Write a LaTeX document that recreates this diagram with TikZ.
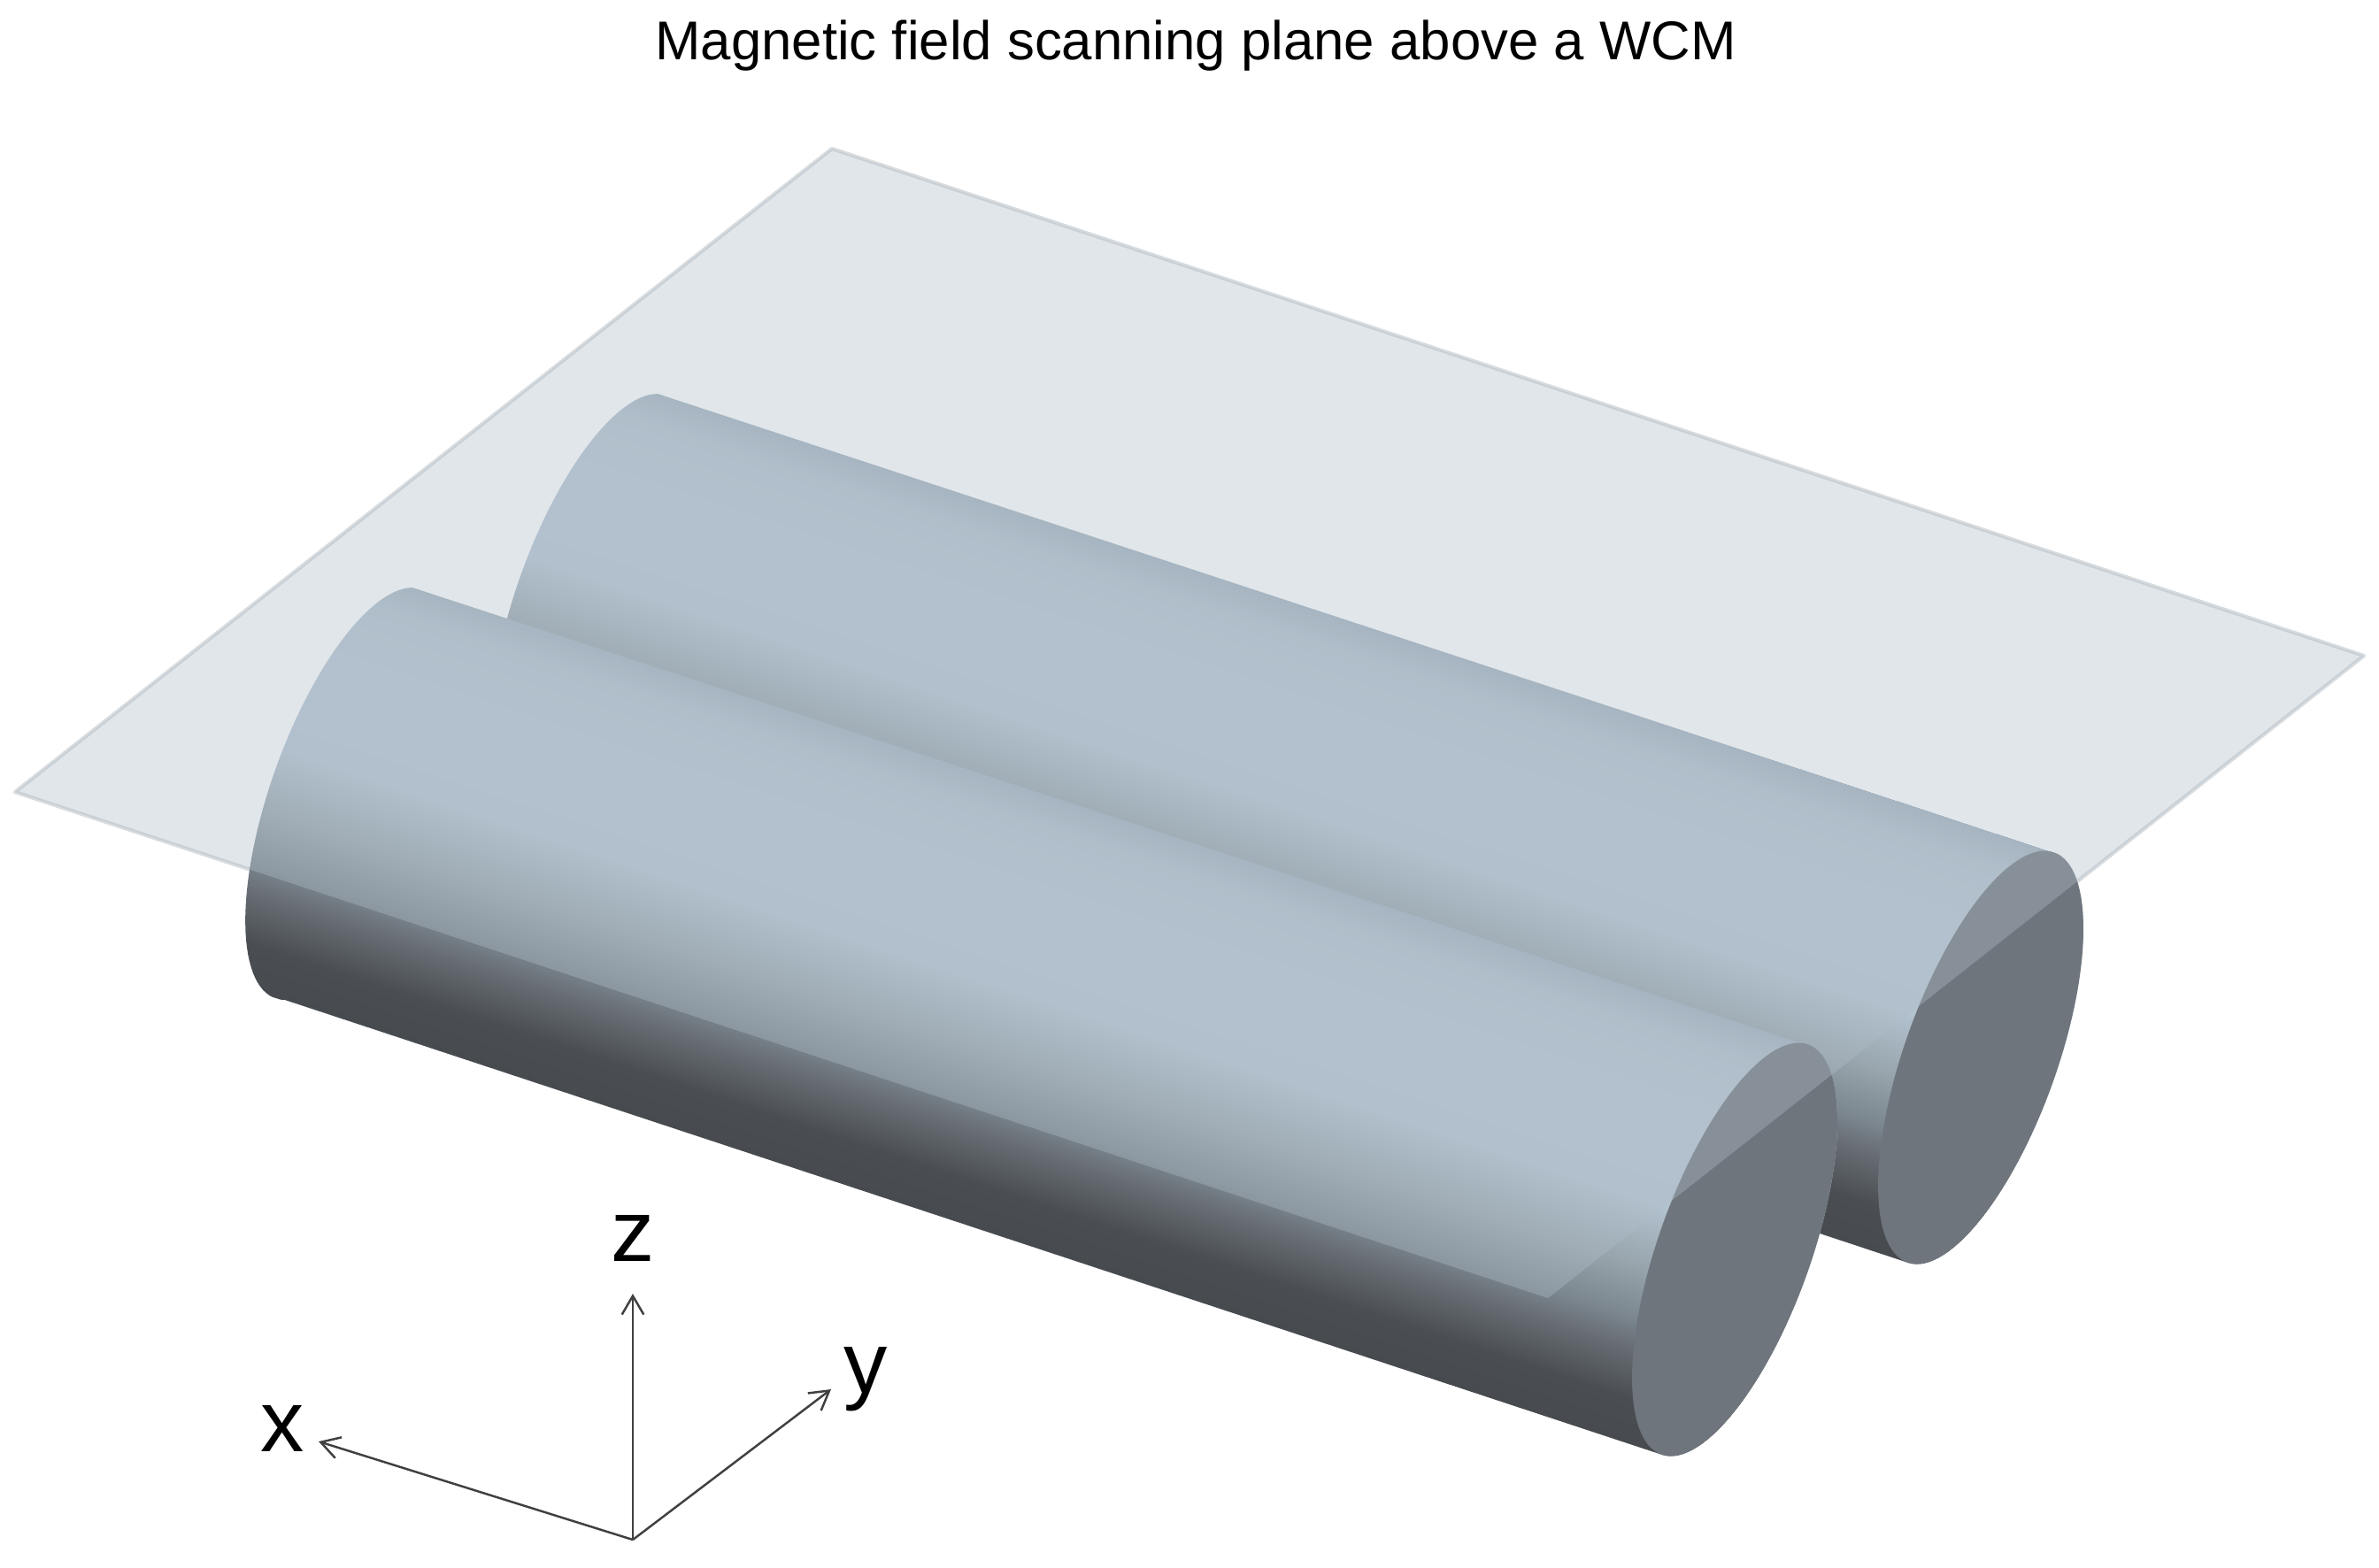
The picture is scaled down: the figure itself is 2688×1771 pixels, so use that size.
\documentclass[tikz,border=0pt]{standalone}
\usepackage{fontspec}
\setmainfont{Liberation Sans}
\usetikzlibrary{arrows.meta,positioning}
\definecolor{sheet}{HTML}{B0BDC8}
\definecolor{sheetedge}{HTML}{D8DCDF}
\definecolor{capface}{HTML}{6E757C}
\definecolor{barA}{HTML}{474B4F}
\definecolor{barB}{HTML}{4A4E52}
\definecolor{barC}{HTML}{666C72}
\definecolor{barD}{HTML}{7B868E}
\definecolor{barE}{HTML}{98A5AD}
\definecolor{barF}{HTML}{B3C3D0}
\definecolor{barG}{HTML}{B5C5D2}
\definecolor{barH}{HTML}{B0C0CC}
\definecolor{barI}{HTML}{A0B0BC}
\pgfdeclareverticalshading{wcmbody}{100bp}{%
  color(0bp)=(barA); color(10bp)=(barB); color(21bp)=(barC);
  color(28bp)=(barD); color(40bp)=(barE); color(55bp)=(barF);
  color(75bp)=(barG); color(92bp)=(barH); color(100bp)=(barI)}
\tikzset{
  axisline/.style={-{Straight Barb[length=6pt,width=7pt]},line width=0.7pt,black!75},
  axislabel/.style={font=\fontsize{28}{28}\selectfont,inner sep=0pt},
  planeedge/.style={draw=sheetedge,line width=1.2pt,line join=round},
  plane/.style={fill=sheet,fill opacity=0.38}
}
% one conductor: back centre, front centre, name
\newcommand{\wcmbar}[5]{%
  \begin{scope}
    \clip plot[domain=360:180,samples=61] ({#1+72*cos(\x)+92*sin(\x)},{#2-233*cos(\x)})
       -- plot[domain=180:0,samples=61] ({#3+82*cos(\x)+82*sin(\x)},{#4-232*cos(\x)+26.5*sin(\x)}) -- cycle;
    \begin{scope}[cm={4.944,-1.633,0.465,1.3154,({(#1+#3)/2},{(#2+#4)/2})}]
      \node[inner sep=0pt,transform shape] (#5body) at (0,0) {\pgfuseshading{wcmbody}};
    \end{scope}
  \end{scope}
  \fill[capface] plot[domain=0:360,samples=121] ({#3+82*cos(\x)+82*sin(\x)},{#4-232*cos(\x)+26.5*sin(\x)}) -- cycle;
}
\begin{document}
\begin{tikzpicture}[x=0.01cm,y=-0.01cm]
  \useasboundingbox (0,0) rectangle (2688,1771);
  % title
  \node[font=\fontsize{17.55}{20}\selectfont] (title) at (1351,52) {Magnetic field scanning plane above a WCM};
  % scanning plane corners, rim stays behind the conductors
  \coordinate (pa) at (940,168);
  \coordinate (pb) at (2671,741);
  \coordinate (pc) at (1749,1467);
  \coordinate (pd) at (17,895);
  \draw[planeedge] (pa) -- (pb) -- (pc) -- (pd) -- cycle;
  % conductors, rear one first
  \wcmbar{671}{678}{2238}{1195}{rear}
  \wcmbar{394}{897}{1960}{1412}{front}
  \fill[plane] (pa) -- (pb) -- (pc) -- (pd) -- cycle;
  % axes
  \coordinate (orig) at (715,1740);
  \node[axislabel] (zlabel) at (715,1399) {z};
  \node[axislabel] (xlabel) at (319,1614) {x};
  \node[axislabel] (ylabel) at (978,1559) {y};
  \coordinate (ztip) at (715,1462);
  \coordinate (xtip) at (360,1629);
  \coordinate (ytip) at (939,1570);
  \draw[axisline] (orig) -- (ztip);
  \draw[axisline] (orig) -- (xtip);
  \draw[axisline] (orig) -- (ytip);
\end{tikzpicture}
\end{document}
